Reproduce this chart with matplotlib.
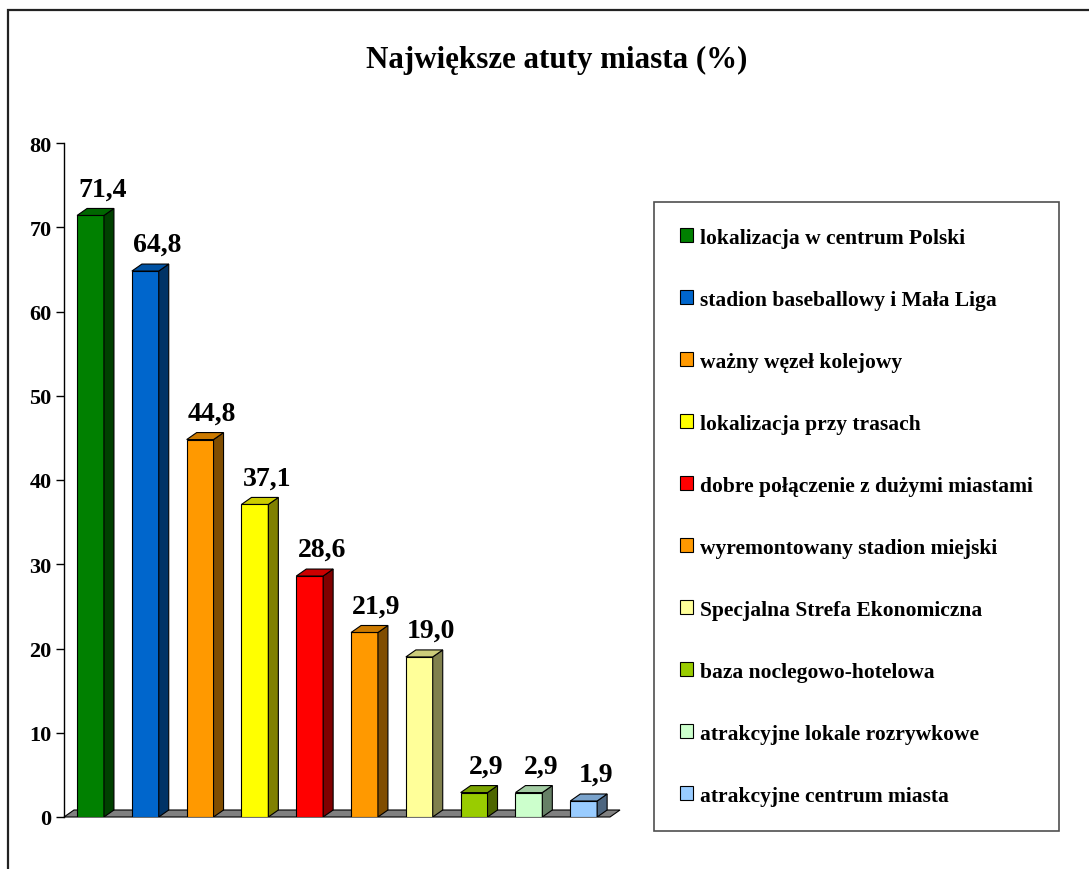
"""
Najwieksze atuty miasta - 3D style bar chart
"""
import matplotlib
matplotlib.use('Agg')
import matplotlib.pyplot as plt
from matplotlib.patches import Rectangle, Polygon, Patch
import numpy as np

labels = ['lokalizacja w centrum Polski',
          'stadion baseballowy i Mała Liga',
          'ważny węzeł kolejowy',
          'lokalizacja przy trasach',
          'dobre połączenie z dużymi miastami',
          'wyremontowany stadion miejski',
          'Specjalna Strefa Ekonomiczna',
          'baza noclegowo-hotelowa',
          'atrakcyjne lokale rozrywkowe',
          'atrakcyjne centrum miasta']
values = [71.4, 64.8, 44.8, 37.1, 28.6, 21.9, 19.0, 2.9, 2.9, 1.9]
colors = ['#008000', '#0066CC', '#FF9900', '#FFFF00', '#FF0000',
          '#FF9900', '#FFFF99', '#99CC00', '#CCFFCC', '#99CCFF']
yticks = [0, 10, 20, 30, 40, 50, 60, 70, 80]

plt.rcParams['font.family'] = ['Liberation Serif', 'DejaVu Serif']
plt.rcParams['font.weight'] = 'bold'

W, H = 1089, 870
fig = plt.figure(figsize=(W / 100, H / 100), dpi=100)

# outer frame (cut off at right and bottom like the original)
fig.patches.append(Rectangle((8 / W, -0.2), 2.0, 1 - 11 / H + 0.2,
                             transform=fig.transFigure, fill=False,
                             edgecolor='#222222', linewidth=1.6))

ax = fig.add_axes([64 / W, (H - 818) / H, 546 / W, (818 - 144) / H])
x0, x1 = -0.484, 9.48
ax.set_xlim(x0, x1)
ax.set_ylim(0, 80)

# depth of the pseudo 3D effect, in data units
px_x = (x1 - x0) / 546
px_y = 80 / (818 - 144)
dx, dy = 10 * px_x, 7 * px_y
w = 0.49


def shade(c, f):
    r, g, b = matplotlib.colors.to_rgb(c)
    return (r * f, g * f, b * f)


# floor
ax.add_patch(Polygon([(x0, 0), (x1, 0), (x1 + dx, dy), (x0 + dx, dy)],
                     closed=True, facecolor='#808080', edgecolor='black',
                     linewidth=0.8, clip_on=False, zorder=1))

for i, (v, c) in enumerate(zip(values, colors)):
    l, r = i - w / 2, i + w / 2
    ax.add_patch(Rectangle((l, 0), w, v, facecolor=c, edgecolor='black',
                           linewidth=0.8, zorder=3))
    ax.add_patch(Polygon([(r, 0), (r + dx, dy), (r + dx, v + dy), (r, v)],
                         closed=True, facecolor=shade(c, 0.5),
                         edgecolor='black', linewidth=0.8, zorder=3))
    ax.add_patch(Polygon([(l, v), (l + dx, v + dy), (r + dx, v + dy), (r, v)],
                         closed=True, facecolor=shade(c, 0.8),
                         edgecolor='black', linewidth=0.8, zorder=3))
    ax.annotate(('%.1f' % v).replace('.', ','), (i + dx / 2 + 7 * px_x, v + dy),
                xytext=(0, 9.4), textcoords='offset points', ha='center',
                va='baseline', fontsize=20, fontweight='bold')

for s in ['top', 'right', 'bottom']:
    ax.spines[s].set_visible(False)
ax.spines['left'].set_linewidth(1.0)
ax.set_xticks([])
ax.set_yticks(yticks)
ax.tick_params(axis='y', length=6, width=1.0, pad=3, labelsize=16)
for t in ax.get_yticklabels():
    t.set_fontweight('bold')

fig.text(557 / W, 1 - 60 / H, 'Największe atuty miasta (%)', ha='center',
         va='center', fontsize=22.3, fontweight='bold')

handles = [Patch(facecolor=c, edgecolor='black', linewidth=0.8) for c in colors]
leg = fig.legend(handles, labels, loc='upper left',
                 bbox_to_anchor=(654 / W, 1 - 203 / H), frameon=True,
                 fancybox=False, edgecolor='#222222', fontsize=15.5,
                 handlelength=0.6, handleheight=0.6, handletextpad=0.33,
                 labelspacing=1.95, borderpad=1.2, borderaxespad=0)
leg.get_frame().set_linewidth(1.2)
for t in leg.get_texts():
    t.set_fontweight('bold')

fig.savefig('out.png', dpi=100)
